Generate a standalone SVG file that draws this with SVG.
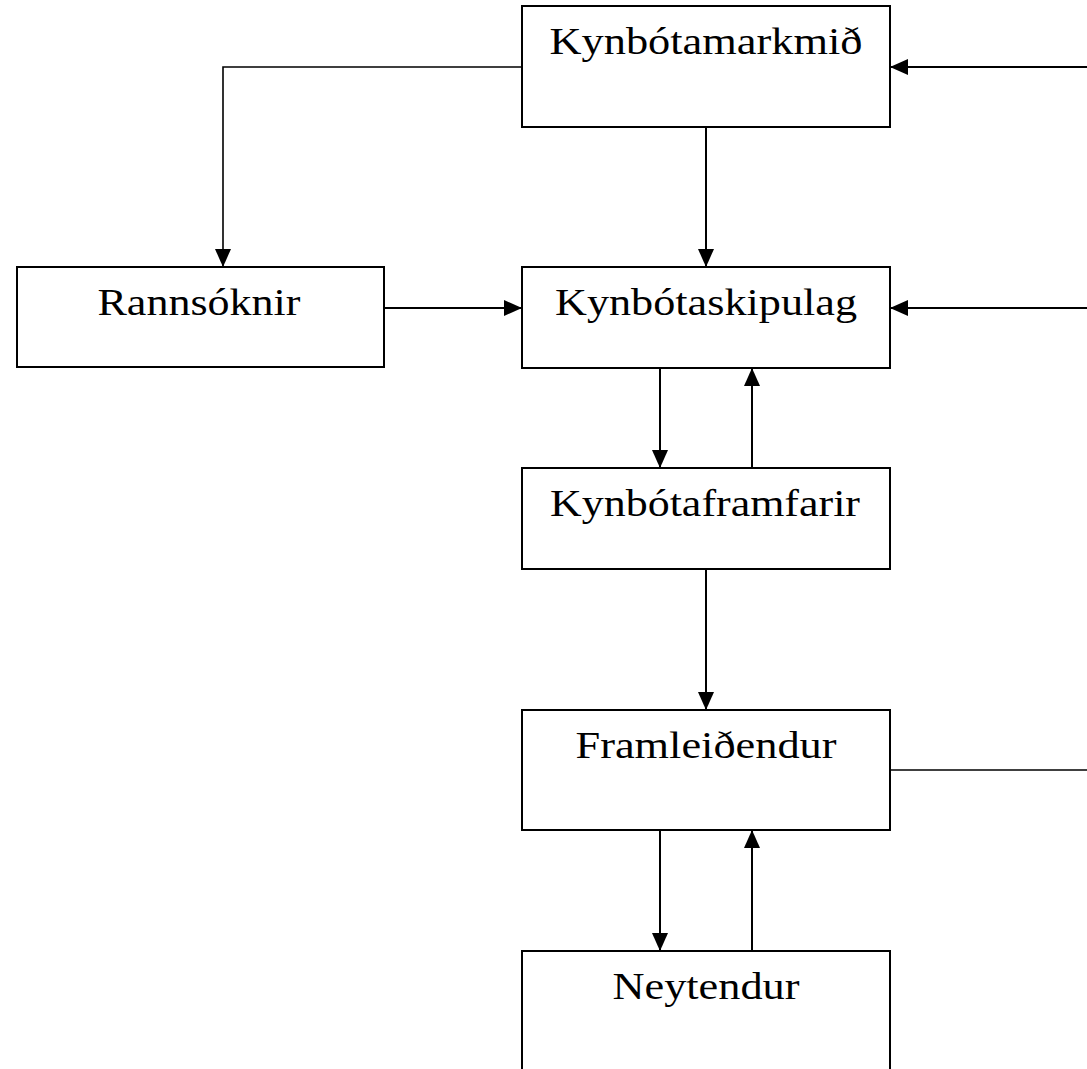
<svg xmlns="http://www.w3.org/2000/svg" width="1087" height="1069" viewBox="0 0 1087 1069">
<style>
.box{fill:#fff;stroke:#000;stroke-width:2}
.lbl{font-family:"Liberation Serif","Times New Roman",serif;font-size:38px;fill:#000;text-anchor:middle}
.c{fill:none;stroke:#000;stroke-width:2}
.t{fill:none;stroke:#000;stroke-width:1.6}
</style>
<defs>
<marker id="ah" markerUnits="userSpaceOnUse" markerWidth="18" markerHeight="16" refX="18" refY="8" orient="auto">
<path d="M0,0 L18,8 L0,16 z" fill="#000"/>
</marker>
</defs>
<rect width="1087" height="1069" fill="#fff"/>
<g id="connectors">
<path class="t" d="M522,67 H223 V267" marker-end="url(#ah)"/>
<path class="c" d="M706,127 V267" marker-end="url(#ah)"/>
<path class="c" d="M1090,67 H890" marker-end="url(#ah)"/>
<path class="c" d="M384,308 H522" marker-end="url(#ah)"/>
<path class="c" d="M1090,308 H890" marker-end="url(#ah)"/>
<path class="c" d="M660,368 V468" marker-end="url(#ah)"/>
<path class="c" d="M752,468 V368" marker-end="url(#ah)"/>
<path class="c" d="M706,569 V710" marker-end="url(#ah)"/>
<path class="t" d="M890,770 H1090"/>
<path class="c" d="M660,830 V951" marker-end="url(#ah)"/>
<path class="c" d="M752,951 V830" marker-end="url(#ah)"/>
</g>
<g id="n1">
<rect class="box" x="522" y="6" width="368" height="121"/>
<text class="lbl" x="706" y="54" textLength="313" lengthAdjust="spacingAndGlyphs">Kynbótamarkmið</text>
</g>
<g id="n2">
<rect class="box" x="17" y="267" width="367" height="100"/>
<text class="lbl" x="199" y="315" textLength="203" lengthAdjust="spacingAndGlyphs">Rannsóknir</text>
</g>
<g id="n3">
<rect class="box" x="522" y="267" width="368" height="101"/>
<text class="lbl" x="706" y="315" textLength="302" lengthAdjust="spacingAndGlyphs">Kynbótaskipulag</text>
</g>
<g id="n4">
<rect class="box" x="522" y="468" width="368" height="101"/>
<text class="lbl" x="705" y="516" textLength="310" lengthAdjust="spacingAndGlyphs">Kynbótaframfarir</text>
</g>
<g id="n5">
<rect class="box" x="522" y="710" width="368" height="120"/>
<text class="lbl" x="706" y="758" textLength="261" lengthAdjust="spacingAndGlyphs">Framleiðendur</text>
</g>
<g id="n6">
<rect class="box" x="522" y="951" width="368" height="130"/>
<text class="lbl" x="706" y="999" textLength="187" lengthAdjust="spacingAndGlyphs">Neytendur</text>
</g>
</svg>
